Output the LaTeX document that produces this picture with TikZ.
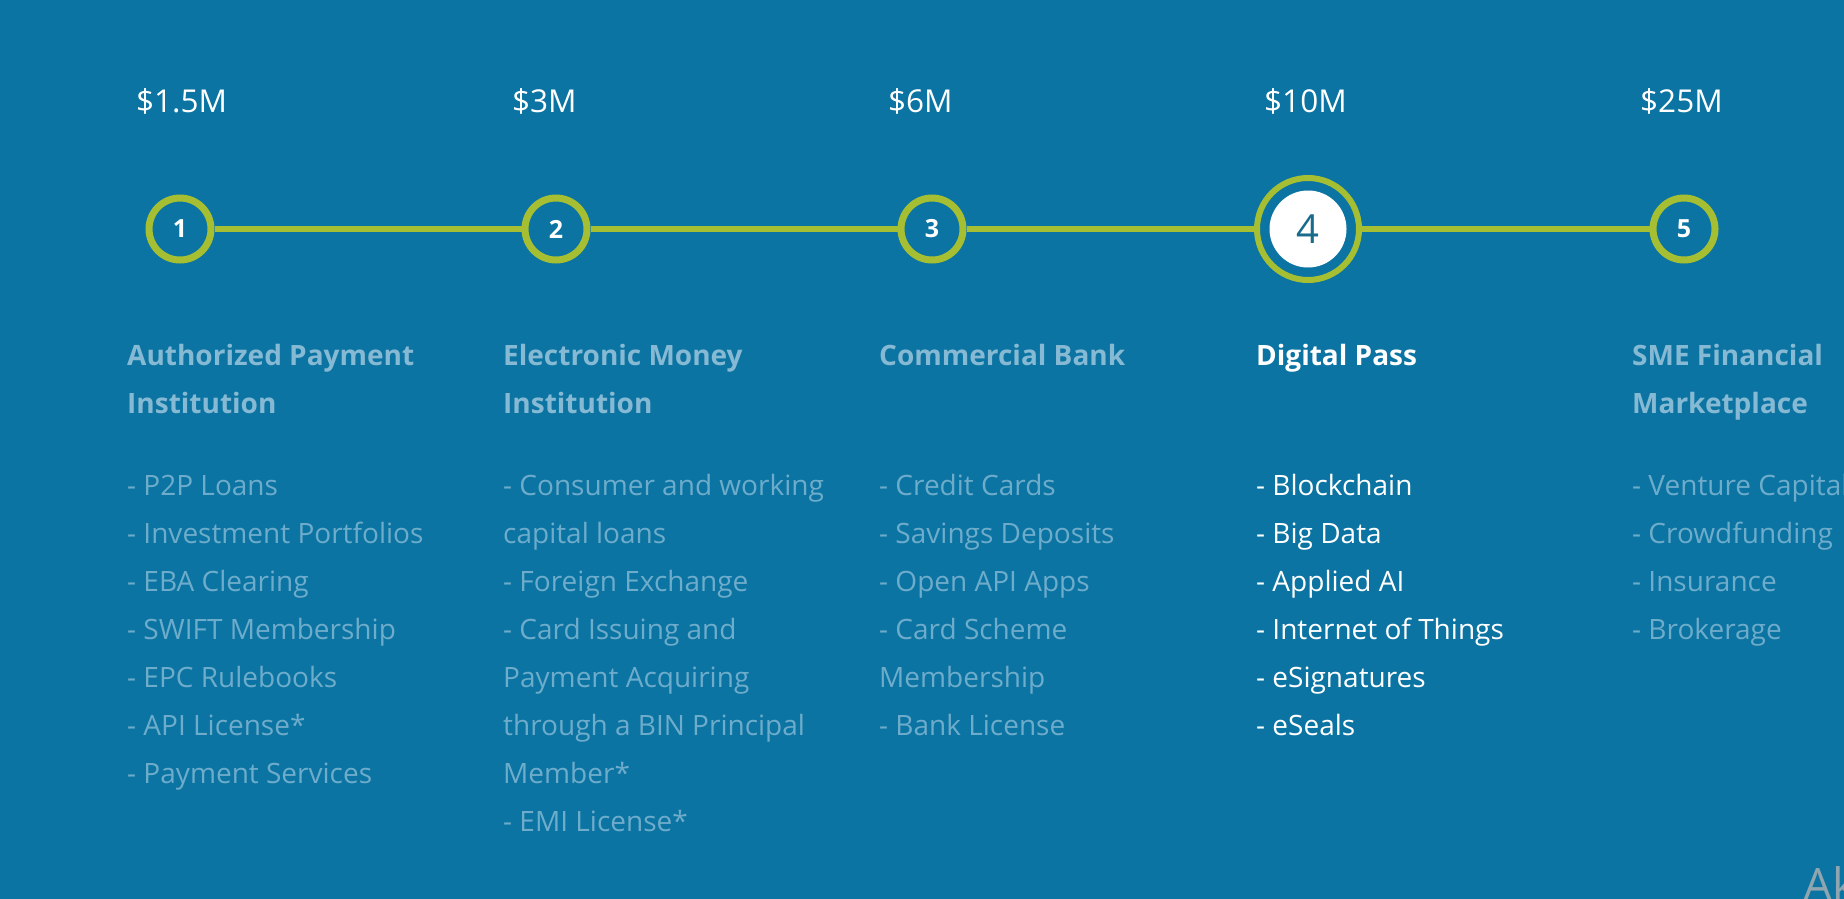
\documentclass[tikz,border=0pt]{standalone}
\usepackage{fontspec}
\setmainfont{Open Sans}
\usetikzlibrary{positioning}
\definecolor{bgblue}{HTML}{0B74A2}
\definecolor{lime}{HTML}{A5BE32}
\definecolor{dimtext}{HTML}{6EACCB}
\definecolor{dimhead}{HTML}{86B9D3}
\definecolor{numfour}{HTML}{1A6C8C}
\definecolor{fadegray}{HTML}{8FA5B0}

\begin{document}
\begin{tikzpicture}[x=1pt,y=-1pt,
 amount/.style={anchor=base west,inner sep=0pt,text=white,font=\fontsize{31.5}{36}\selectfont},
 stage/.style={circle,draw=lime,line width=7pt,minimum size=62pt,inner sep=0pt,
 text=white,font=\fontsize{25}{28}\selectfont\bfseries},
 ring/.style={circle,draw=lime,line width=6pt,minimum size=102pt,inner sep=0pt},
 current/.style={circle,fill=white,minimum size=77pt,inner sep=0pt,
 text=numfour,font=\fontsize{40}{44}\selectfont},
 head/.style={anchor=base west,align=left,inner sep=0pt,text=dimhead,
 font=\fontsize{28}{48}\selectfont\bfseries},
 items/.style={anchor=base west,align=left,inner sep=0pt,text=dimtext,
 font=\fontsize{28}{48}\selectfont},
 link/.style={draw=lime,line width=6.5pt}]
\fill[bgblue] (0,0) rectangle (1844,899);
\clip (0,0) rectangle (1844,899);

% funding per stage
\node[amount] (m1) at (136,112) {\$1.5M};
\node[amount] (m2) at (512,112) {\$3M};
\node[amount] (m3) at (888,112) {\$6M};
\node[amount] (m4) at (1264,112) {\$10M};
\node[amount] (m5) at (1640,112) {\$25M};

% timeline
\node[stage] (s1) at (180,229) {1};
\node[stage] (s2) at (556,229) {2};
\node[stage] (s3) at (932,229) {3};
\node[ring] (s4ring) at (1308,229) {};
\node[current] (s4) at (1308,229) {4};
\node[stage] (s5) at (1684,229) {5};
\foreach \a/\b in {s1/s2,s2/s3,s3/s4ring,s4ring/s5}
 \draw[link] (\a)--(\b);

% columns (anchored on the baseline of their last line)
\node[head] (h1) at (127,413) {Authorized Payment\\Institution};
\node[items] (l1) at (127,783) {- P2P Loans\\- Investment Portfolios\\- EBA Clearing\\
- SWIFT Membership\\- EPC Rulebooks\\- API License*\\- Payment Services};
\node[head] (h2) at (503,413) {Electronic Money\\Institution};
\node[items] (l2) at (503,831) {- Consumer and working\\capital loans\\- Foreign Exchange\\
- Card Issuing and\\Payment Acquiring\\through a BIN Principal\\Member*\\- EMI License*};
\node[head] (h3) at (879,365) {Commercial Bank};
\node[items] (l3) at (879,735) {- Credit Cards\\- Savings Deposits\\- Open API Apps\\
- Card Scheme\\Membership\\- Bank License};
\node[head,text=white] (h4) at (1256,365) {Digital Pass};
\node[items,text=white] (l4) at (1256,735) {- Blockchain\\- Big Data\\- Applied AI\\
- Internet of Things\\- eSignatures\\- eSeals};
\node[head] (h5) at (1632,413) {SME Financial\\Marketplace};
\node[items] (l5) at (1632,639) {- Venture Capital\\- Crowdfunding\\- Insurance\\- Brokerage};

\node[anchor=base west,inner sep=0pt,text=fadegray,font=\fontsize{46}{50}\selectfont] (ak) at (1803,901) {Ak};
\end{tikzpicture}
\end{document}
